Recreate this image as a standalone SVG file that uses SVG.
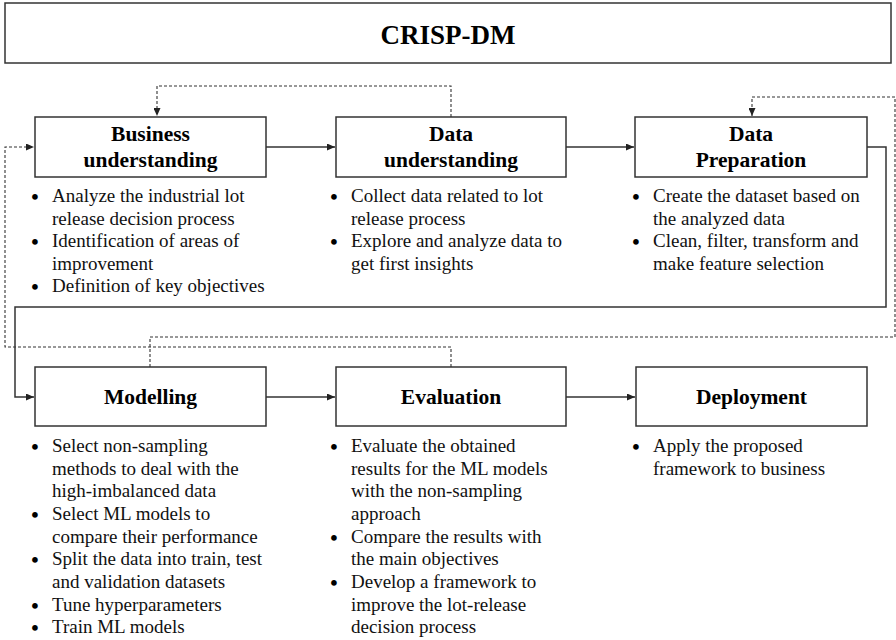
<svg xmlns="http://www.w3.org/2000/svg" width="896" height="640" viewBox="0 0 896 640">
<defs>
<style>
.box{fill:#fff;stroke:#333;stroke-width:1.5}
.ttl{font-family:"Liberation Serif","Times New Roman",serif;font-weight:bold;font-size:21.5px;fill:#000;text-anchor:middle}
.big{font-family:"Liberation Serif","Times New Roman",serif;font-weight:bold;font-size:27px;fill:#000;text-anchor:middle}
.bl{font-family:"Liberation Serif","Times New Roman",serif;font-size:19px;fill:#111}
.dot{font-family:"Liberation Serif","Times New Roman",serif;font-size:21px;font-weight:bold;fill:#000;text-anchor:middle}
.solid{fill:none;stroke:#333;stroke-width:1.5}
.dash{fill:none;stroke:#333;stroke-width:1.1;stroke-dasharray:3 2}
</style>
<marker id="ah" viewBox="0 0 8 7" refX="8" refY="3.5" markerWidth="8" markerHeight="7" markerUnits="userSpaceOnUse" orient="auto">
<path d="M0,0 L8,3.5 L0,7 z" fill="#222"/>
</marker>
</defs>
<rect width="896" height="640" fill="#fff"/>

<g id="title">
<rect class="box" x="5" y="3" width="886" height="60"/>
<text class="big" x="448" y="44">CRISP-DM</text>
</g>

<g id="connectors">
<path class="solid" d="M266,147 H335" marker-end="url(#ah)"/>
<path class="solid" d="M566,147 H634" marker-end="url(#ah)"/>
<path class="solid" d="M867,147 H886 V307 H15 V397 H34" marker-end="url(#ah)"/>
<path class="solid" d="M266,397 H335" marker-end="url(#ah)"/>
<path class="solid" d="M566,397 H635" marker-end="url(#ah)"/>
<path class="dash" d="M451,117 V86 H157 V116" marker-end="url(#ah)"/>
<path class="dash" d="M150,367 V337 H895 V97 H752 V116" marker-end="url(#ah)"/>
<path class="dash" d="M451,367 V347 H5 V147 H34" marker-end="url(#ah)"/>
</g>

<g id="business">
<rect class="box" x="35" y="117" width="231" height="60"/>
<text class="ttl" x="150.5" y="141">Business</text>
<text class="ttl" x="150.5" y="167">understanding</text>
<text class="dot" x="35" y="204">•</text>
<text class="bl" x="52" y="202">Analyze the industrial lot</text>
<text class="bl" x="52" y="225">release decision process</text>
<text class="dot" x="35" y="249">•</text>
<text class="bl" x="52" y="247">Identification of areas of</text>
<text class="bl" x="52" y="270">improvement</text>
<text class="dot" x="35" y="294">•</text>
<text class="bl" x="52" y="292">Definition of key objectives</text>
</g>

<g id="data-understanding">
<rect class="box" x="336" y="117" width="230" height="60"/>
<text class="ttl" x="451" y="141">Data</text>
<text class="ttl" x="451" y="167">understanding</text>
<text class="dot" x="334" y="204">•</text>
<text class="bl" x="351" y="202">Collect data related to lot</text>
<text class="bl" x="351" y="225">release process</text>
<text class="dot" x="334" y="249">•</text>
<text class="bl" x="351" y="247">Explore and analyze data to</text>
<text class="bl" x="351" y="270">get first insights</text>
</g>

<g id="data-preparation">
<rect class="box" x="635" y="117" width="232" height="60"/>
<text class="ttl" x="751" y="141">Data</text>
<text class="ttl" x="751" y="167">Preparation</text>
<text class="dot" x="636" y="204">•</text>
<text class="bl" x="653" y="202">Create the dataset based on</text>
<text class="bl" x="653" y="225">the analyzed data</text>
<text class="dot" x="636" y="249">•</text>
<text class="bl" x="653" y="247">Clean, filter, transform and</text>
<text class="bl" x="653" y="270">make feature selection</text>
</g>

<g id="modelling">
<rect class="box" x="35" y="367" width="231" height="59"/>
<text class="ttl" x="150.5" y="404">Modelling</text>
<text class="dot" x="35" y="454">•</text>
<text class="bl" x="52" y="452">Select non-sampling</text>
<text class="bl" x="52" y="475">methods to deal with the</text>
<text class="bl" x="52" y="497">high-imbalanced data</text>
<text class="dot" x="35" y="522">•</text>
<text class="bl" x="52" y="520">Select ML models to</text>
<text class="bl" x="52" y="543">compare their performance</text>
<text class="dot" x="35" y="567">•</text>
<text class="bl" x="52" y="565">Split the data into train, test</text>
<text class="bl" x="52" y="588">and validation datasets</text>
<text class="dot" x="35" y="613">•</text>
<text class="bl" x="52" y="611">Tune hyperparameters</text>
<text class="dot" x="35" y="635">•</text>
<text class="bl" x="52" y="633">Train ML models</text>
</g>

<g id="evaluation">
<rect class="box" x="336" y="367" width="230" height="59"/>
<text class="ttl" x="451" y="404">Evaluation</text>
<text class="dot" x="334" y="454">•</text>
<text class="bl" x="351" y="452">Evaluate the obtained</text>
<text class="bl" x="351" y="475">results for the ML models</text>
<text class="bl" x="351" y="497">with the non-sampling</text>
<text class="bl" x="351" y="520">approach</text>
<text class="dot" x="334" y="545">•</text>
<text class="bl" x="351" y="543">Compare the results with</text>
<text class="bl" x="351" y="565">the main objectives</text>
<text class="dot" x="334" y="590">•</text>
<text class="bl" x="351" y="588">Develop a framework to</text>
<text class="bl" x="351" y="611">improve the lot-release</text>
<text class="bl" x="351" y="633">decision process</text>
</g>

<g id="deployment">
<rect class="box" x="636" y="367" width="231" height="59"/>
<text class="ttl" x="751.5" y="404">Deployment</text>
<text class="dot" x="636" y="454">•</text>
<text class="bl" x="653" y="452">Apply the proposed</text>
<text class="bl" x="653" y="475">framework to business</text>
</g>
</svg>
